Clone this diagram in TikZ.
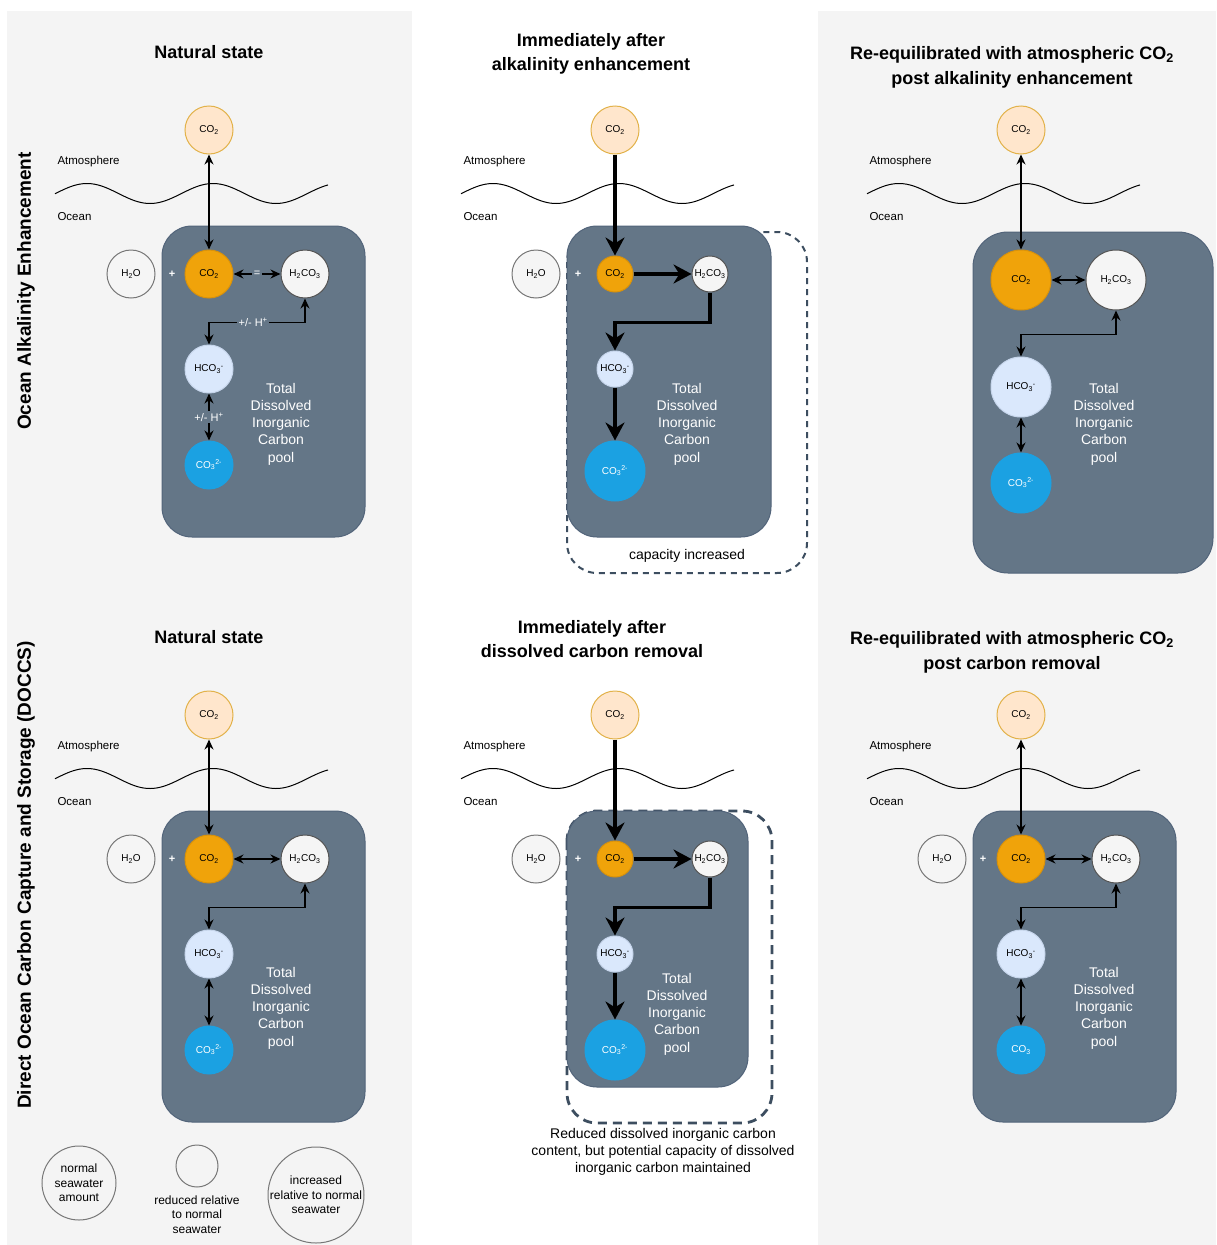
\documentclass[tikz,border=0pt]{standalone}
\usepackage{fontspec}
\setmainfont{Liberation Sans}
\usetikzlibrary{arrows.meta}
\definecolor{bgC}{HTML}{F4F4F4}
\definecolor{poolF}{HTML}{647687}
\definecolor{poolD}{HTML}{52647A}
\definecolor{atmF}{HTML}{FFE6CC}
\definecolor{atmD}{HTML}{E2B24A}
\definecolor{co2F}{HTML}{F0A30A}
\definecolor{co2D}{HTML}{D9920A}
\definecolor{hF}{HTML}{F5F5F5}
\definecolor{hD}{HTML}{555555}
\definecolor{wD}{HTML}{777777}
\definecolor{hcoF}{HTML}{DAE8FC}
\definecolor{hcoD}{HTML}{C7D6EC}
\definecolor{co3F}{HTML}{1BA1E2}
\definecolor{dashC}{HTML}{3D4E60}
\begin{document}
\begin{tikzpicture}[x=1pt,y=-1pt,
  mol/.style={circle, inner sep=0pt, line width=1pt, font=\fontsize{10}{12}\selectfont},
  s18/.style={minimum size=36pt},
  s24/.style={minimum size=48pt},
  s30/.style={minimum size=60pt},
  atmco/.style={mol, s24, fill=atmF, draw=atmD},
  wco/.style={mol, fill=co2F, draw=co2D},
  hco/.style={mol, fill=hF, draw=hD},
  water/.style={mol, s24, fill=hF, draw=wD},
  bic/.style={mol, fill=hcoF, draw=hcoD},
  carb/.style={mol, fill=co3F, draw=co3F, text=white},
  pool/.style={fill=poolF, draw=poolD, line width=1pt, rounded corners=30pt},
  thinarr/.style={line width=1.3pt, arrows={Stealth[length=10pt,width=9pt]-Stealth[length=10pt,width=9pt]}},
  thickarr/.style={line width=3.2pt, arrows={-Stealth[length=18pt,width=19pt]}},
  lbl/.style={fill=poolF, text=white, inner sep=1.5pt, font=\fontsize{11}{13}\selectfont},
  plus/.style={text=white, font=\bfseries\fontsize{11}{13}\selectfont},
  tot/.style={text=white, align=center, font=\fontsize{14}{17.3}\selectfont},
  ttl/.style={align=center, font=\bfseries\fontsize{18}{24.5}\selectfont},
  side/.style={rotate=90, font=\bfseries\fontsize{19}{22}\selectfont},
  small/.style={anchor=west, font=\fontsize{11.5}{14}\selectfont},
  leg/.style={circle, draw=wD, line width=1pt, inner sep=0pt},
  legt/.style={align=center, font=\fontsize{12}{14.5}\selectfont},
  captxt/.style={align=center, font=\fontsize{14}{17}\selectfont}
]
\useasboundingbox (0,0) rectangle (1216,1245);
\fill[white] (0,0) rectangle (1216,1245);
\fill[bgC] (7,11) rectangle (412,1245);
\fill[bgC] (818,11) rectangle (1216,1245);

% side labels
\node[side] (sideA) at (26,291) {Ocean Alkalinity Enhancement};
\node[side] (sideB) at (26,875) {Direct Ocean Carbon Capture and Storage (DOCCS)};

% titles
\node[ttl] (t1) at (209,52) {Natural state};
\node[ttl] (t2) at (591,54) {Immediately after\\alkalinity enhancement};
\node[ttl] (t3) at (1012,67.5) {Re-equilibrated with atmospheric CO\textsubscript{2}\\post alkalinity enhancement};
\node[ttl] (t4) at (209,637) {Natural state};
\node[ttl] (t5) at (592,639) {Immediately after\\dissolved carbon removal};
\node[ttl] (t6) at (1012,652.5) {Re-equilibrated with atmospheric CO\textsubscript{2}\\post carbon removal};

% waves and labels
\foreach \dx/\dy/\k in {0/0/a, 406/0/b, 812/0/c, 0/585/d, 406/585/e, 812/585/f}{
  \begin{scope}[shift={(\dx,\dy)}]
    \draw[line width=1pt] plot[domain=0:273, samples=90, smooth] ({55+\x}, {193.5-10*cos(2.857*(\x-32))});
    \node[small] (atm\k) at (54,162) {Atmosphere};
    \node[small] (oce\k) at (54,216.5) {Ocean};
  \end{scope}
}

% ===== Panel 1 =====
\draw[pool] (162,226) rectangle (365,537);
\node[atmco] (a1top) at (209,130) {CO\textsubscript{2}};
\node[water] (a1w) at (131,274) {H\textsubscript{2}O};
\node[plus] (a1p) at (172,274) {+};
\node[wco, s24] (a1c) at (209,274) {CO\textsubscript{2}};
\node[hco, s24] (a1h) at (305,274) {H\textsubscript{2}CO\textsubscript{3}};
\node[bic, s24] (a1b) at (209,369) {HCO\textsubscript{3}\textsuperscript{-}};
\node[carb, s24] (a1k) at (209,465) {CO\textsubscript{3}\textsuperscript{2-}};
\node[tot] (a1t) at (281,424) {Total\\Dissolved\\Inorganic\\Carbon\\pool};
\draw[thinarr] (a1top) -- (a1c);
\draw[thinarr] (a1c) -- node[lbl] (a1eq) {=} (a1h);
\draw[thinarr] (a1h.south) -- ++(0,24) -| node[lbl, pos=0.27] (a1l1) {+/- H\textsuperscript{+}} (a1b.north);
\draw[thinarr] (a1b) -- node[lbl] (a1l2) {+/- H\textsuperscript{+}} (a1k);

% ===== Panel 2 =====
\draw[dashC, line width=2pt, dash pattern=on 6pt off 5pt, rounded corners=30pt] (567,232) rectangle (807,573);
\draw[pool] (567,226) rectangle (771,537);
\node[atmco] (a2top) at (615,130) {CO\textsubscript{2}};
\node[water] (a2w) at (536,274) {H\textsubscript{2}O};
\node[plus] (a2p) at (578,274) {+};
\node[wco, s18] (a2c) at (615,274) {CO\textsubscript{2}};
\node[hco, s18] (a2h) at (710,274) {H\textsubscript{2}CO\textsubscript{3}};
\node[bic, s18] (a2b) at (615,369) {HCO\textsubscript{3}\textsuperscript{-}};
\node[carb, s30] (a2k) at (615,471) {CO\textsubscript{3}\textsuperscript{2-}};
\node[tot] (a2t) at (687,424) {Total\\Dissolved\\Inorganic\\Carbon\\pool};
\node[captxt] (a2cap) at (687,556) {capacity increased};
\draw[thickarr] (a2top) -- (a2c);
\draw[thickarr] (a2c) -- (a2h);
\draw[thickarr] (a2h.south) -- ++(0,30) -| (a2b.north);
\draw[thickarr] (a2b) -- (a2k);

% ===== Panel 3 =====
\draw[pool, rounded corners=35pt] (973,232) rectangle (1213,573);
\node[atmco] (a3top) at (1021,130) {CO\textsubscript{2}};
\node[wco, s30] (a3c) at (1021,280) {CO\textsubscript{2}};
\node[hco, s30] (a3h) at (1116,280) {H\textsubscript{2}CO\textsubscript{3}};
\node[bic, s30] (a3b) at (1021,387) {HCO\textsubscript{3}\textsuperscript{-}};
\node[carb, s30] (a3k) at (1021,483) {CO\textsubscript{3}\textsuperscript{2-}};
\node[tot] (a3t) at (1104,424) {Total\\Dissolved\\Inorganic\\Carbon\\pool};
\draw[thinarr] (a3top) -- (a3c);
\draw[thinarr] (a3c) -- (a3h);
\draw[thinarr] (a3h.south) -- ++(0,24) -| (a3b.north);
\draw[thinarr] (a3b) -- (a3k);

% ===== Panel 4 =====
\draw[pool] (162,811) rectangle (365,1122);
\node[atmco] (b1top) at (209,715) {CO\textsubscript{2}};
\node[water] (b1w) at (131,859) {H\textsubscript{2}O};
\node[plus] (b1p) at (172,859) {+};
\node[wco, s24] (b1c) at (209,859) {CO\textsubscript{2}};
\node[hco, s24] (b1h) at (305,859) {H\textsubscript{2}CO\textsubscript{3}};
\node[bic, s24] (b1b) at (209,954) {HCO\textsubscript{3}\textsuperscript{-}};
\node[carb, s24] (b1k) at (209,1050) {CO\textsubscript{3}\textsuperscript{2-}};
\node[tot] (b1t) at (281,1008) {Total\\Dissolved\\Inorganic\\Carbon\\pool};
\draw[thinarr] (b1top) -- (b1c);
\draw[thinarr] (b1c) -- (b1h);
\draw[thinarr] (b1h.south) -- ++(0,24) -| (b1b.north);
\draw[thinarr] (b1b) -- (b1k);

% ===== Panel 5 =====
\draw[dashC, line width=2.8pt, dash pattern=on 9pt off 6pt, rounded corners=30pt] (567,811) rectangle (772,1123);
\draw[pool] (567,811) rectangle (748,1087);
\node[atmco] (b2top) at (615,715) {CO\textsubscript{2}};
\node[water] (b2w) at (536,859) {H\textsubscript{2}O};
\node[plus] (b2p) at (578,859) {+};
\node[wco, s18] (b2c) at (615,859) {CO\textsubscript{2}};
\node[hco, s18] (b2h) at (710,859) {H\textsubscript{2}CO\textsubscript{3}};
\node[bic, s18] (b2b) at (615,954) {HCO\textsubscript{3}\textsuperscript{-}};
\node[carb, s30] (b2k) at (615,1050) {CO\textsubscript{3}\textsuperscript{2-}};
\node[tot] (b2t) at (677,1014) {Total\\Dissolved\\Inorganic\\Carbon\\pool};
\node[captxt] (b2cap) at (663,1152) {Reduced dissolved inorganic carbon\\content, but potential capacity of dissolved\\inorganic carbon maintained};
\draw[thickarr] (b2top) -- (b2c);
\draw[thickarr] (b2c) -- (b2h);
\draw[thickarr] (b2h.south) -- ++(0,30) -| (b2b.north);
\draw[thickarr] (b2b) -- (b2k);

% ===== Panel 6 =====
\draw[pool] (973,811) rectangle (1176,1122);
\node[atmco] (b3top) at (1021,715) {CO\textsubscript{2}};
\node[water] (b3w) at (942,859) {H\textsubscript{2}O};
\node[plus] (b3p) at (983,859) {+};
\node[wco, s24] (b3c) at (1021,859) {CO\textsubscript{2}};
\node[hco, s24] (b3h) at (1116,859) {H\textsubscript{2}CO\textsubscript{3}};
\node[bic, s24] (b3b) at (1021,954) {HCO\textsubscript{3}\textsuperscript{-}};
\node[carb, s24] (b3k) at (1021,1050) {CO\textsubscript{3}};
\node[tot] (b3t) at (1104,1008) {Total\\Dissolved\\Inorganic\\Carbon\\pool};
\draw[thinarr] (b3top) -- (b3c);
\draw[thinarr] (b3c) -- (b3h);
\draw[thinarr] (b3h.south) -- ++(0,24) -| (b3b.north);
\draw[thinarr] (b3b) -- (b3k);

% ===== Legend =====
\node[leg, minimum size=74pt] (g1) at (79,1183) {};
\node[legt] (g1t) at (79,1183) {normal\\seawater\\amount};
\node[leg, minimum size=42pt] (g2) at (197,1166) {};
\node[legt, anchor=north] (g2t) at (197,1192) {reduced relative\\to normal\\seawater};
\node[leg, minimum size=96pt] (g3) at (316,1195) {};
\node[legt] (g3t) at (316,1195) {increased\\relative to normal\\seawater};
\end{tikzpicture}
\end{document}
